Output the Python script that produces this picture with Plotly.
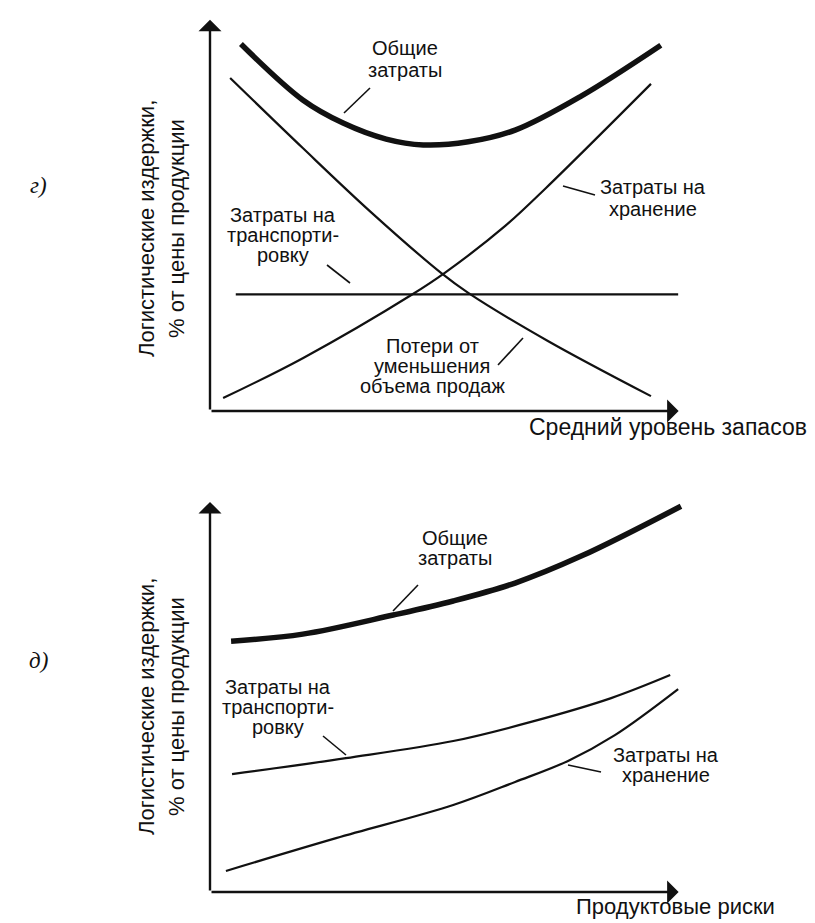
import plotly.graph_objects as go

W, H = 815, 923

# ---------------- data (arbitrary units) ----------------
# panel "г": average inventory level
g_total_x = [0.66, 1.98, 2.84, 3.76, 4.55, 5.51, 6.51, 7.92, 9.62]
g_total_y = [9.38, 7.95, 7.36, 6.95, 6.80, 6.88, 7.18, 8.05, 9.35]
g_loss_x = [0.43, 1.98, 3.41, 4.93, 5.51, 7.21, 9.41]
g_loss_y = [8.51, 6.72, 5.11, 3.53, 3.02, 1.79, 0.38]
g_storage_x = [0.28, 1.98, 4.33, 5.01, 6.30, 7.17, 9.41]
g_storage_y = [0.33, 1.35, 2.99, 3.53, 4.73, 5.70, 8.36]
g_transport_x = [0.55, 9.99]
g_transport_y = [2.98, 2.98]

# panel "д": product risks
d_total_x = [0.45, 1.98, 3.91, 5.19, 6.51, 7.92, 10.05]
d_total_y = [6.43, 6.61, 7.10, 7.46, 7.92, 8.61, 9.89]
d_transport_x = [0.47, 2.90, 5.19, 6.85, 8.56, 9.82]
d_transport_y = [3.02, 3.43, 3.87, 4.36, 4.97, 5.56]
d_storage_x = [0.34, 2.69, 5.19, 6.51, 7.64, 8.64, 9.99]
d_storage_y = [0.54, 1.38, 2.23, 2.82, 3.36, 4.02, 5.20]

y_title_lines = ["Логистические издержки,", "% от цены продукции"]
g_xtitle = "Средний уровень запасов"
d_xtitle = "Продуктовые риски"

# ---------------- figure ----------------
fig = go.Figure()
INK = "#111111"
SANS = "Liberation Sans, Arial, sans-serif"
SERIF = "Liberation Serif, Times New Roman, serif"
thin = dict(color=INK, width=2.2)
thick = dict(color=INK, width=5.5)

def add(x, y, line, xa, ya):
    fig.add_trace(go.Scatter(x=x, y=y, mode="lines", line=dict(shape="spline", smoothing=1.0, **line),
                             xaxis=xa, yaxis=ya, showlegend=False, hoverinfo="skip"))

add(g_total_x, g_total_y, thick, "x", "y")
add(g_loss_x, g_loss_y, thin, "x", "y")
add(g_storage_x, g_storage_y, thin, "x", "y")
add(g_transport_x, g_transport_y, thin, "x", "y")
add(d_total_x, d_total_y, thick, "x2", "y2")
add(d_transport_x, d_transport_y, thin, "x2", "y2")
add(d_storage_x, d_storage_y, thin, "x2", "y2")

def px(x):
    return x / W

def py(y):
    return 1 - y / H

ax_common = dict(showgrid=False, zeroline=False, showticklabels=False, showline=False, ticks="", fixedrange=True)
fig.update_layout(
    width=W, height=H, margin=dict(l=0, r=0, t=0, b=0),
    paper_bgcolor="white", plot_bgcolor="rgba(0,0,0,0)",
    xaxis=dict(domain=[px(202), px(680)], range=[0, 10.2], anchor="y", **ax_common),
    yaxis=dict(domain=[py(403), py(0)], range=[0, 10.3], anchor="x", **ax_common),
    xaxis2=dict(domain=[px(202), px(680)], range=[0, 10.2], anchor="y2", **ax_common),
    yaxis2=dict(domain=[py(884), py(490)], range=[0, 10.1], anchor="x2", **ax_common),
    font=dict(family=SANS, color=INK),
)

annotations = []
# axes with arrowheads
for xr, yr in (("x", "y"), ("x2", "y2")):
    annotations.append(dict(x=10, y=0, ax=0, ay=0, xref=xr, yref=yr, axref=xr, ayref=yr, text="",
                            showarrow=True, arrowhead=1, arrowsize=1.6, arrowwidth=2.4, arrowcolor=INK))
    annotations.append(dict(x=0, y=10, ax=0, ay=0, xref=xr, yref=yr, axref=xr, ayref=yr, text="",
                            showarrow=True, arrowhead=1, arrowsize=1.6, arrowwidth=2.4, arrowcolor=INK))

SHIFT = 8  # plotly renders the text box centre a little below the glyphs' visual centre

def label(lines, cx, cy, pitch, size=20, angle=0, family=SANS, horiz=False):
    n = len(lines)
    for i, t in enumerate(lines):
        off = (i - (n - 1) / 2) * pitch
        a = dict(text=t, xref="paper", yref="paper", showarrow=False,
                 font=dict(size=size, color=INK, family=family),
                 xanchor="center", yanchor="middle", textangle=angle)
        if horiz:
            a.update(x=px(cx + off - SHIFT), y=py(cy))
        else:
            a.update(x=px(cx), y=py(cy + off - SHIFT))
        annotations.append(a)

# panel г labels
label(["Общие", "затраты"], 397, 59, 22)
label(["Затраты на", "хранение"], 645, 198, 23)
label(["Затраты на", "транспорти-", "ровку"], 275, 235, 20)
label(["Потери от", "уменьшения", "объема продаж"], 424, 366, 20)
label([g_xtitle], 660, 427, 0, size=23)
label(y_title_lines, 161, 221, 30, size=22, angle=-90, horiz=True)
label(["<i>г)</i>"], 30, 185, 0, size=23, family=SERIF)

# panel д labels
label(["Общие", "затраты"], 447, 548, 20)
label(["Затраты на", "транспорти-", "ровку"], 270, 707, 20)
label(["Затраты на", "хранение"], 658, 765, 20)
label([d_xtitle], 667, 906, 0, size=22)
label(y_title_lines, 161, 699, 30, size=22, angle=-90, horiz=True)
label(["<i>д)</i>"], 30, 660, 0, size=23, family=SERIF)

fig.update_layout(annotations=annotations)

# leader lines (pixel positions on the page)
leaders = [
    (336, 105, 362, 80), (555, 178, 587, 187), (319, 257, 342, 275), (490, 357, 515, 330),
    (385, 603, 410, 577), (315, 728, 338, 747), (560, 757, 593, 764),
]
for x0, y0, x1, y1 in leaders:
    fig.add_shape(type="line", xref="paper", yref="paper", x0=px(x0), y0=py(y0), x1=px(x1), y1=py(y1),
                  line=dict(color=INK, width=1.6))

fig.write_html("out.html")
